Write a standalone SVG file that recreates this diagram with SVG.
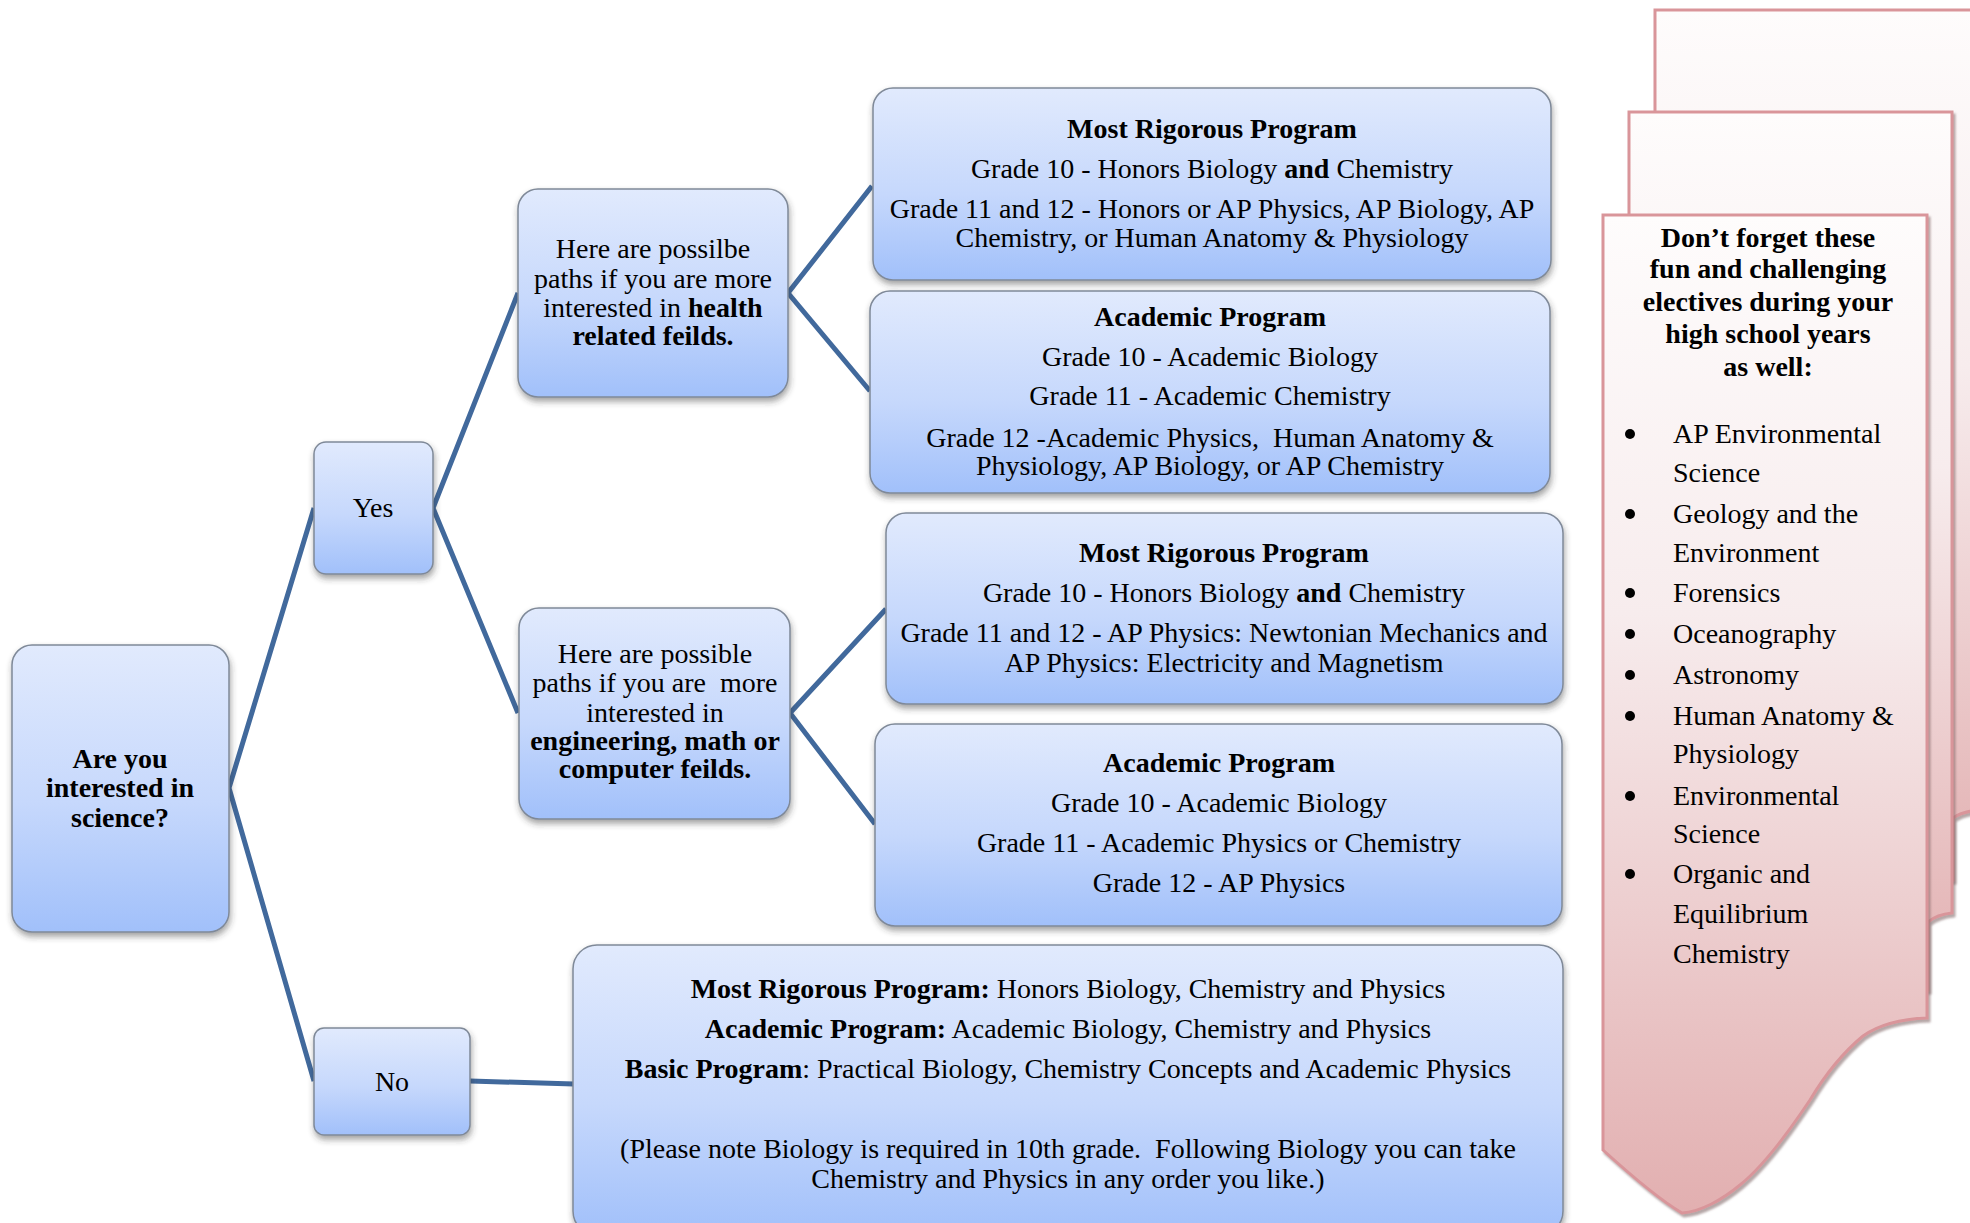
<svg xmlns="http://www.w3.org/2000/svg" width="1970" height="1223" viewBox="0 0 1970 1223">
<defs>
<linearGradient id="blue" x1="0" y1="0" x2="0" y2="1">
<stop offset="0" stop-color="#e1eafd"/>
<stop offset="0.55" stop-color="#c6d8fc"/>
<stop offset="1" stop-color="#a1c0fa"/>
</linearGradient>
<linearGradient id="pink" x1="0" y1="0" x2="0" y2="1">
<stop offset="0" stop-color="#fefcfc"/>
<stop offset="0.4" stop-color="#f7eced"/>
<stop offset="1" stop-color="#e2afb0"/>
</linearGradient>
<filter id="sh" x="-10%" y="-10%" width="120%" height="130%">
<feDropShadow dx="1" dy="4" stdDeviation="3" flood-color="#333" flood-opacity="0.45"/>
</filter>
<filter id="psh" x="-10%" y="-10%" width="120%" height="120%">
<feDropShadow dx="2" dy="3" stdDeviation="1.2" flood-color="#7a6060" flood-opacity="0.55"/>
</filter>
</defs>
<style>
.box{fill:url(#blue);stroke:#7f8998;stroke-width:1.5;filter:url(#sh)}
.sheet{fill:url(#pink);stroke:#d9959a;stroke-width:3;filter:url(#psh)}
.con{fill:none;stroke:#41699c;stroke-width:5;stroke-linejoin:miter}
text{font-family:"Liberation Serif","Times New Roman",serif;font-size:28px;fill:#000}
.c{text-anchor:middle}
.b{font-weight:bold}
</style>
<rect width="1970" height="1223" fill="#fff"/>

<g id="connectors">
<path class="con" d="M314,508 L229,788 L314,1081"/>
<path class="con" d="M518,293 L433,508 L518,713"/>
<path class="con" d="M872,186 L788,293 L870,391"/>
<path class="con" d="M886,609 L790,713 L875,824"/>
<path class="con" d="M470,1081 L574,1084"/>
</g>

<g id="root">
<rect class="box" x="12" y="645" width="217" height="287" rx="20"/>
<text class="c b" x="120" y="768">Are you</text>
<text class="c b" x="120" y="797">interested in</text>
<text class="c b" x="120" y="827">science?</text>
</g>

<g id="yes">
<rect class="box" x="314" y="442" width="119" height="132" rx="12"/>
<text class="c" x="373" y="517">Yes</text>
</g>

<g id="no">
<rect class="box" x="314" y="1028" width="156" height="107" rx="10"/>
<text class="c" x="392" y="1091">No</text>
</g>

<g id="health">
<rect class="box" x="518" y="189" width="270" height="208" rx="20"/>
<text class="c" x="653" y="258">Here are possilbe</text>
<text class="c" x="653" y="288">paths if you are more</text>
<text class="c" x="653" y="317">interested in <tspan class="b">health</tspan></text>
<text class="c b" x="653" y="345">related feilds.</text>
</g>

<g id="engineering">
<rect class="box" x="519" y="608" width="271" height="211" rx="20"/>
<text class="c" x="655" y="663">Here are possible</text>
<text class="c" x="655" y="692" xml:space="preserve">paths if you are  more</text>
<text class="c" x="655" y="722">interested in</text>
<text class="c b" x="655" y="750">engineering, math or</text>
<text class="c b" x="655" y="778">computer feilds.</text>
</g>

<g id="health-rigorous">
<rect class="box" x="873" y="88" width="678" height="192" rx="20"/>
<text class="c b" x="1212" y="138">Most Rigorous Program</text>
<text class="c" x="1212" y="178">Grade 10 - Honors Biology <tspan class="b">and</tspan> Chemistry</text>
<text class="c" x="1212" y="218">Grade 11 and 12 - Honors or AP Physics, AP Biology, AP</text>
<text class="c" x="1212" y="247">Chemistry, or Human Anatomy &amp; Physiology</text>
</g>

<g id="health-academic">
<rect class="box" x="870" y="291" width="680" height="202" rx="20"/>
<text class="c b" x="1210" y="326">Academic Program</text>
<text class="c" x="1210" y="366">Grade 10 - Academic Biology</text>
<text class="c" x="1210" y="405">Grade 11 - Academic Chemistry</text>
<text class="c" x="1210" y="447" xml:space="preserve">Grade 12 -Academic Physics,  Human Anatomy &amp;</text>
<text class="c" x="1210" y="475">Physiology, AP Biology, or AP Chemistry</text>
</g>

<g id="eng-rigorous">
<rect class="box" x="886" y="513" width="677" height="191" rx="20"/>
<text class="c b" x="1224" y="562">Most Rigorous Program</text>
<text class="c" x="1224" y="602">Grade 10 - Honors Biology <tspan class="b">and</tspan> Chemistry</text>
<text class="c" x="1224" y="642">Grade 11 and 12 - AP Physics: Newtonian Mechanics and</text>
<text class="c" x="1224" y="672">AP Physics: Electricity and Magnetism</text>
</g>

<g id="eng-academic">
<rect class="box" x="875" y="724" width="687" height="202" rx="20"/>
<text class="c b" x="1219" y="772">Academic Program</text>
<text class="c" x="1219" y="812">Grade 10 - Academic Biology</text>
<text class="c" x="1219" y="852">Grade 11 - Academic Physics or Chemistry</text>
<text class="c" x="1219" y="892">Grade 12 - AP Physics</text>
</g>

<g id="no-programs">
<rect class="box" x="573" y="945" width="990" height="290" rx="24"/>
<text class="c" x="1068" y="998"><tspan class="b">Most Rigorous Program:</tspan> Honors Biology, Chemistry and Physics</text>
<text class="c" x="1068" y="1038"><tspan class="b">Academic Program:</tspan> Academic Biology, Chemistry and Physics</text>
<text class="c" x="1068" y="1078"><tspan class="b">Basic Program</tspan>: Practical Biology, Chemistry Concepts and Academic Physics</text>
<text class="c" x="1068" y="1158" xml:space="preserve">(Please note Biology is required in 10th grade.  Following Biology you can take</text>
<text class="c" x="1068" y="1188">Chemistry and Physics in any order you like.)</text>
</g>

<g id="electives">
<path class="sheet" d="M1655,10 H1995 V808 C1980,809 1962,811 1953,818 L1953,880 L1655,900 Z"/>
<path class="sheet" d="M1629,112 H1952 V913 C1942,914 1934,917 1928,922 L1928,990 L1629,1000 Z"/>
<path class="sheet" d="M1603,215 H1927 V1018 C1900,1019 1880,1024 1863,1036 C1840,1055 1822,1080 1810,1100 C1790,1130 1765,1165 1740,1185 C1722,1200 1700,1212 1682,1213 C1660,1200 1625,1170 1603,1150 Z"/>
<text class="c b" x="1768" y="247">Don’t forget these</text>
<text class="c b" x="1768" y="278">fun and challenging</text>
<text class="c b" x="1768" y="311">electives during your</text>
<text class="c b" x="1768" y="343">high school years</text>
<text class="c b" x="1768" y="376">as well:</text>
<g fill="#000">
<circle cx="1630" cy="434" r="5"/>
<circle cx="1630" cy="514" r="5"/>
<circle cx="1630" cy="593" r="5"/>
<circle cx="1630" cy="634" r="5"/>
<circle cx="1630" cy="675" r="5"/>
<circle cx="1630" cy="716" r="5"/>
<circle cx="1630" cy="796" r="5"/>
<circle cx="1630" cy="874" r="5"/>
</g>
<text x="1673" y="443">AP Environmental</text>
<text x="1673" y="482">Science</text>
<text x="1673" y="523">Geology and the</text>
<text x="1673" y="562">Environment</text>
<text x="1673" y="602">Forensics</text>
<text x="1673" y="643">Oceanography</text>
<text x="1673" y="684">Astronomy</text>
<text x="1673" y="725">Human Anatomy &amp;</text>
<text x="1673" y="763">Physiology</text>
<text x="1673" y="805">Environmental</text>
<text x="1673" y="843">Science</text>
<text x="1673" y="883">Organic and</text>
<text x="1673" y="923">Equilibrium</text>
<text x="1673" y="963">Chemistry</text>
</g>
</svg>
